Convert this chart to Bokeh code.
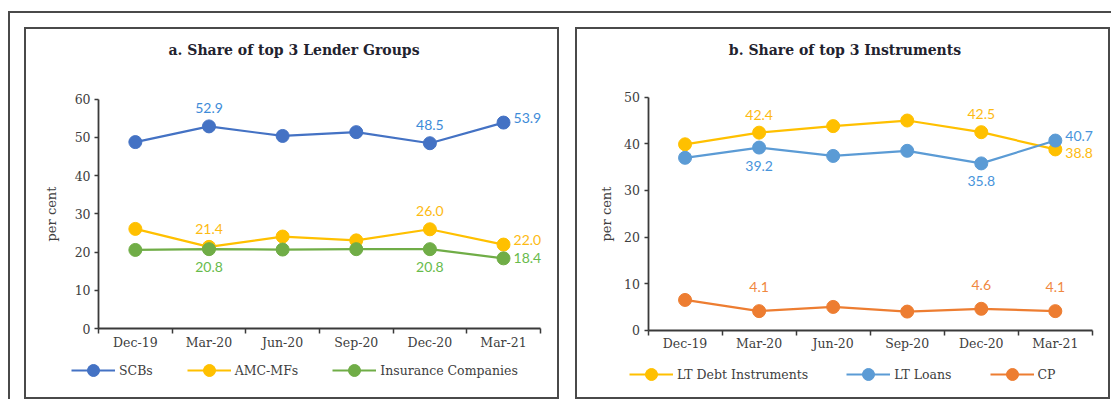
from bokeh.plotting import figure
from bokeh.layouts import row
from bokeh.models import FixedTicker, Range1d, Legend, LegendItem, LinearAxis, Label
from bokeh.core.properties import value
from bokeh.embed import file_html
from bokeh.resources import INLINE

# ---------------- data ----------------
categories = ["Dec-19", "Mar-20", "Jun-20", "Sep-20", "Dec-20", "Mar-21"]

# panel a: share of top 3 lender groups (per cent)
scbs = [48.8, 52.9, 50.4, 51.4, 48.5, 53.9]
amc_mfs = [26.1, 21.4, 24.1, 23.1, 26.0, 22.0]
insurance = [20.6, 20.8, 20.7, 20.8, 20.8, 18.4]

# panel b: share of top 3 instruments (per cent)
lt_debt = [39.9, 42.4, 43.8, 45.0, 42.5, 38.8]
lt_loans = [37.0, 39.2, 37.4, 38.5, 35.8, 40.7]
cp = [6.5, 4.1, 5.0, 4.0, 4.6, 4.1]

y_ticks_a = [0, 10, 20, 30, 40, 50, 60]
y_ticks_b = [0, 10, 20, 30, 40, 50]

SERIF = "DejaVu Serif"
LABEL_FONT = "Lato"
AXIS_COLOR = "#3a3a3a"
TEXT_COLOR = "#404040"
PW, PH = 535, 372          # panel size incl. 2px border
CW, CH = PW - 4, PH - 4    # drawing area inside the border


def make_panel(title, series, y_ticks, g):
    n = len(categories)
    xs = list(range(n))
    # pixel geometry -> data ranges (frame covers the whole panel)
    ppx = (g["ax_r"] - g["ax_l"]) / n
    x0 = -0.5 - g["ax_l"] / ppx
    x1 = x0 + CW / ppx
    ymax = y_ticks[-1]
    ppy = (g["y0_px"] - g["ytop_px"]) / ymax
    y1 = ymax + g["ytop_px"] / ppy
    y0 = y1 - CH / ppy

    p = figure(width=PW, height=PH, output_backend="svg", title=None,
               toolbar_location=None, tools="",
               x_axis_type=None, y_axis_type=None,
               x_range=Range1d(x0, x1), y_range=Range1d(y0, y1),
               min_border=0, min_border_left=0, min_border_right=0,
               min_border_top=0, min_border_bottom=0,
               styles={"border": "2px solid #4a4a4a"})
    p.outline_line_color = None
    p.background_fill_color = "white"
    p.border_fill_color = "white"

    # x axis: labels at centres, tick marks at category boundaries
    xa = LinearAxis(fixed_location=0, bounds=(-0.5, n - 0.5))
    xa.ticker = FixedTicker(ticks=xs, minor_ticks=[i - 0.5 for i in range(n + 1)])
    xa.major_label_overrides = {i: c for i, c in enumerate(categories)}
    xa.major_tick_out = 0
    xa.major_tick_in = 0
    xa.minor_tick_out = 5
    xa.minor_tick_in = 0
    xa.minor_tick_line_color = AXIS_COLOR
    xa.minor_tick_line_width = 1.5
    xa.major_label_standoff = 1

    ya = LinearAxis(fixed_location=-0.5, bounds=(0, ymax))
    ya.ticker = FixedTicker(ticks=y_ticks, minor_ticks=[])
    ya.major_tick_out = 4
    ya.major_tick_in = 0
    ya.major_label_standoff = 4
    ya.axis_label = "per cent"
    ya.axis_label_text_font = SERIF
    ya.axis_label_text_font_style = "normal"
    ya.axis_label_text_font_size = "13px"
    ya.axis_label_text_color = TEXT_COLOR
    ya.axis_label_standoff = g["ylab_so"]

    for ax in (xa, ya):
        ax.axis_line_color = AXIS_COLOR
        ax.axis_line_width = 1.8
        ax.major_tick_line_color = AXIS_COLOR
        ax.major_tick_line_width = 1.5
        ax.major_label_text_font = SERIF
        ax.major_label_text_font_size = "12.5px"
        ax.major_label_text_color = TEXT_COLOR
    p.add_layout(xa, "below")
    p.add_layout(ya, "left")

    # title
    p.add_layout(Label(x=x0 + (CW / 2) / ppx, y=y1 - g["title_py"] / ppy, text=title,
                       text_font=SERIF, text_font_style="bold", text_font_size="14px",
                       text_color="#22222e", text_align="center", text_baseline="middle"))

    items = []
    for name, vals, color, lcolor, labels in series:
        lr = p.line(xs, vals, line_color=color, line_width=2.2)
        sr = p.scatter(xs, vals, size=13, fill_color=color, line_color=color)
        items.append(LegendItem(label=name, renderers=[lr, sr]))
        for idx, where in labels:
            dx, dy, align, base = {
                "above": (0, 13, "center", "bottom"),
                "above2": (0, 19, "center", "bottom"),
                "below": (0, -13, "center", "top"),
                "right": (10, 0, "left", "middle"),
                "right_up": (10, 5, "left", "middle"),
                "right_dn": (10, -4, "left", "middle"),
            }[where]
            p.text(x=[xs[idx]], y=[vals[idx]], text=[f"{vals[idx]:.1f}"],
                   x_offset=dx, y_offset=-dy,
                   text_font=value(LABEL_FONT), text_font_size="14px",
                   text_color=lcolor, text_align=align, text_baseline=base)

    legend = Legend(items=items, orientation="horizontal",
                    location=(g["leg_x"], CH - g["leg_cy"] - 15), spacing=g["leg_sp"],
                    glyph_width=44, glyph_height=30, label_standoff=4,
                    padding=0, margin=0, border_line_color=None,
                    background_fill_alpha=0,
                    label_text_font=SERIF, label_text_font_size="12.5px",
                    label_text_color=TEXT_COLOR)
    p.add_layout(legend, "center")
    return p


series_a = [
    ("SCBs", scbs, "#4472C4", "#3d8bd8", [(1, "above"), (4, "above"), (5, "right_up")]),
    ("AMC-MFs", amc_mfs, "#FFC000", "#FDBA12", [(1, "above"), (4, "above"), (5, "right_up")]),
    ("Insurance Companies", insurance, "#70AD47", "#68BB4C", [(1, "below"), (4, "below"), (5, "right")]),
]
series_b = [
    ("LT Debt Instruments", lt_debt, "#FFC000", "#FDBA12", [(1, "above"), (4, "above"), (5, "right_dn")]),
    ("LT Loans", lt_loans, "#5B9BD5", "#4894DB", [(1, "below"), (4, "below"), (5, "right_up")]),
    ("CP", cp, "#ED7D31", "#F0883F", [(1, "above2"), (4, "above2"), (5, "above2")]),
]

# pixel geometry inside each panel (relative to the inner top-left corner)
geom_a = dict(ax_l=71.5, ax_r=510, ytop_px=69, y0_px=296, title_py=20,
              leg_x=45, leg_cy=337, leg_sp=34, ylab_so=13)
geom_b = dict(ax_l=70, ax_r=511, ytop_px=67, y0_px=297.5, title_py=20,
              leg_x=52, leg_cy=341, leg_sp=38, ylab_so=8)

p1 = make_panel("a. Share of top 3 Lender Groups", series_a, y_ticks_a, geom_a)
p2 = make_panel("b. Share of top 3 Instruments", series_b, y_ticks_b, geom_b)

layout = row(p1, p2, spacing=16,
             styles={"border-top": "2px solid #4a4a4a", "border-left": "2px solid #4a4a4a",
                     "padding": "14px 1px 0 14px", "margin": "11px 0 0 8px"})

open("out.html", "w").write(file_html(layout, INLINE))
